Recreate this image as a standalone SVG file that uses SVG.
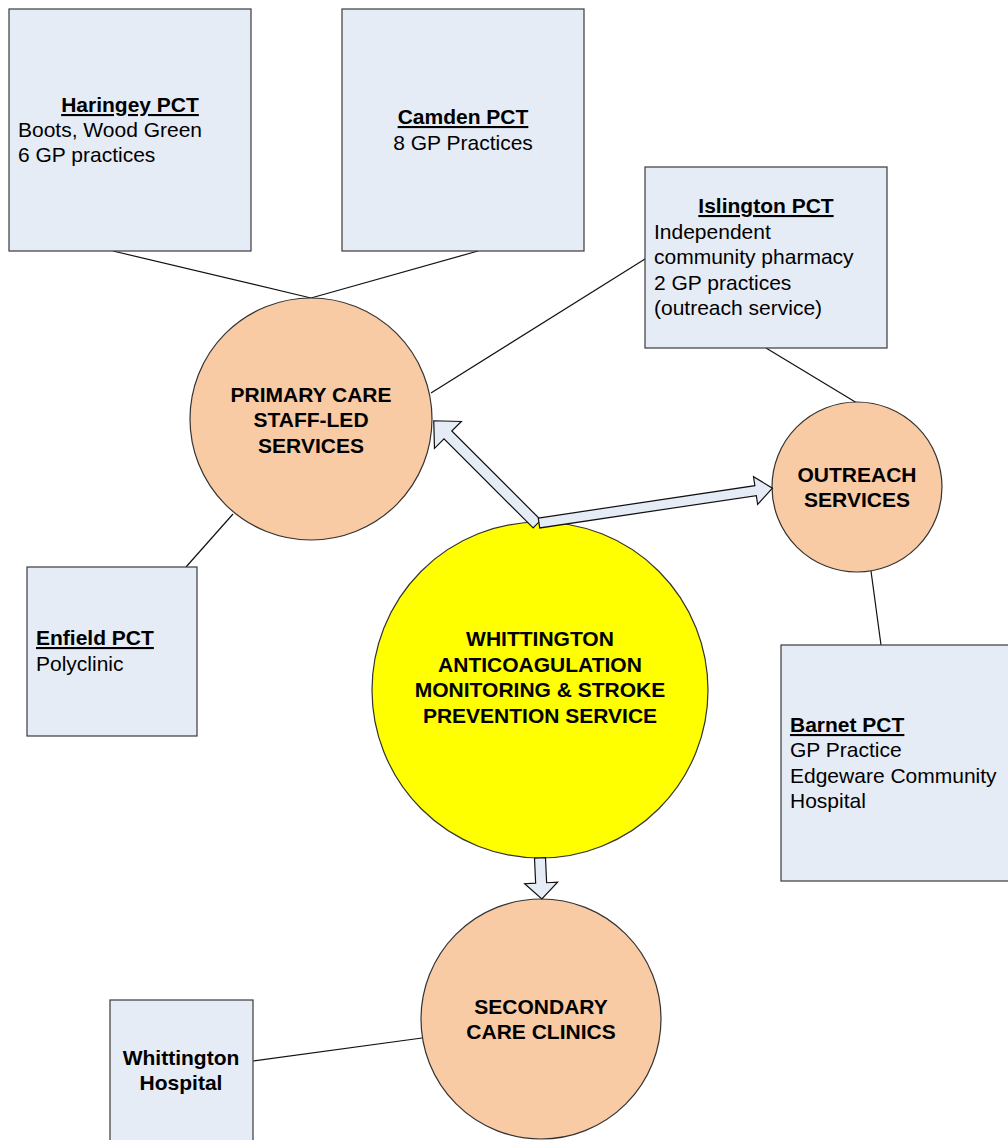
<svg xmlns="http://www.w3.org/2000/svg" width="1008" height="1140" viewBox="0 0 1008 1140">
  <style>
    .box { fill: #E6ECF6; stroke: #3a3a3a; stroke-width: 1.2; }
    .peach { fill: #F9CBA5; stroke: #333; stroke-width: 1.2; }
    .yellow { fill: #FFFF00; stroke: #333; stroke-width: 1.2; }
    .conn { stroke: #111; stroke-width: 1.2; fill: none; }
    .arrow { fill: #E6ECF6; stroke: #111; stroke-width: 1.2; stroke-linejoin: miter; }
    text { font-family: "Liberation Sans", Arial, sans-serif; font-size: 21px; fill: #000; }
    .b { font-weight: bold; }
    .u { font-weight: bold; text-decoration: underline; }
    .c { text-anchor: middle; }
  </style>
  <rect width="1008" height="1140" fill="#fff"/>

  <g id="connectors">
    <line class="conn" x1="113" y1="251" x2="311" y2="298"/>
    <line class="conn" x1="478" y1="251" x2="311" y2="298"/>
    <line class="conn" x1="645" y1="259" x2="431" y2="393"/>
    <line class="conn" x1="766" y1="348" x2="857" y2="403"/>
    <line class="conn" x1="186" y1="567" x2="233" y2="514"/>
    <line class="conn" x1="871" y1="571" x2="881" y2="645"/>
    <line class="conn" x1="253" y1="1061" x2="422" y2="1038"/>
  </g>

  <g id="haringey">
    <rect class="box" x="9" y="9" width="242" height="242"/>
    <text class="u c" x="130" y="112">Haringey PCT</text>
    <text x="18" y="137">Boots, Wood Green</text>
    <text x="18" y="162">6 GP practices</text>
  </g>

  <g id="camden">
    <rect class="box" x="342" y="9" width="242" height="242"/>
    <text class="u c" x="463" y="124">Camden PCT</text>
    <text class="c" x="463" y="150">8 GP Practices</text>
  </g>

  <g id="islington">
    <rect class="box" x="645" y="167" width="242" height="181"/>
    <text class="u c" x="766" y="213">Islington PCT</text>
    <text x="654" y="239">Independent</text>
    <text x="654" y="264">community pharmacy</text>
    <text x="654" y="290">2 GP practices</text>
    <text x="654" y="315">(outreach service)</text>
  </g>

  <g id="enfield">
    <rect class="box" x="27" y="567" width="170" height="169"/>
    <text class="u" x="36" y="645">Enfield PCT</text>
    <text x="36" y="671">Polyclinic</text>
  </g>

  <g id="barnet">
    <rect class="box" x="781" y="645" width="240" height="236"/>
    <text class="u" x="790" y="732">Barnet PCT</text>
    <text x="790" y="757">GP Practice</text>
    <text x="790" y="783">Edgeware Community</text>
    <text x="790" y="808">Hospital</text>
  </g>

  <g id="whittington-hospital">
    <rect class="box" x="110" y="1000" width="143" height="150"/>
    <text class="b c" x="181" y="1065">Whittington</text>
    <text class="b c" x="181" y="1090">Hospital</text>
  </g>

  <g id="primary-care">
    <circle class="peach" cx="311" cy="419" r="121"/>
    <text class="b c" x="311" y="402">PRIMARY CARE</text>
    <text class="b c" x="311" y="427">STAFF-LED</text>
    <text class="b c" x="311" y="453">SERVICES</text>
  </g>

  <g id="outreach">
    <circle class="peach" cx="857" cy="487" r="85"/>
    <text class="b c" x="857" y="482">OUTREACH</text>
    <text class="b c" x="857" y="507">SERVICES</text>
  </g>

  <g id="secondary-care">
    <circle class="peach" cx="541" cy="1019" r="120"/>
    <text class="b c" x="541" y="1014">SECONDARY</text>
    <text class="b c" x="541" y="1039">CARE CLINICS</text>
  </g>

  <g id="whittington-service">
    <circle class="yellow" cx="540" cy="690" r="168"/>
    <text class="b c" x="540" y="646">WHITTINGTON</text>
    <text class="b c" x="540" y="672">ANTICOAGULATION</text>
    <text class="b c" x="540" y="697">MONITORING &amp; STROKE</text>
    <text class="b c" x="540" y="723">PREVENTION SERVICE</text>
  </g>

  <g id="block-arrows">
    <polygon class="arrow" transform="translate(537,524) rotate(-135)" points="0,-5.5 126,-5.5 126,-19 146,0 126,19 126,5.5 0,5.5"/>
    <polygon class="arrow" transform="translate(539,523) rotate(-8.5)" points="0,-5 219,-5 219,-14 236,0 219,14 219,5 0,5"/>
    <polygon class="arrow" transform="translate(540,858) rotate(87.4)" points="0,-5.5 25,-5.5 25,-16.5 41,0 25,16.5 25,5.5 0,5.5"/>
  </g>
</svg>
